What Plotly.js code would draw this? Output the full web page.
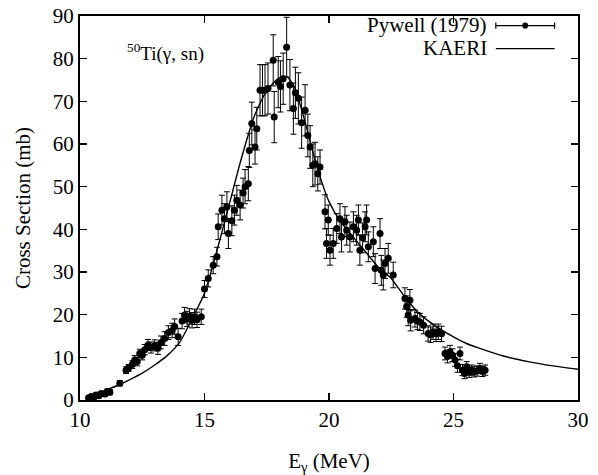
<!DOCTYPE html>
<html>
<head>
<meta charset="utf-8">
<script src="https://cdn.plot.ly/plotly-3.0.1.min.js"></script>
<style>html,body{margin:0;padding:0;background:#fff;}</style>
</head>
<body>
<div id="chart" style="width:598px;height:475px;"></div>
<script>
// Pywell (1979) data: energy (MeV), cross section (mb), error (mb)
const pywellE = [10.35,10.45,10.55,10.65,10.75,10.85,11.0,11.1,11.2,11.6,11.85,11.95,12.1,12.2,12.3,12.4,12.5,12.6,12.73,12.85,13.0,13.13,13.25,13.4,13.55,13.7,13.8,13.94,14.1,14.2,14.3,14.4,14.5,14.6,14.7,14.87,15.0,15.15,15.35,15.5,15.55,15.7,15.8,15.9,15.96,16.1,16.2,16.3,16.43,16.55,16.63,16.76,16.8,16.9,17.03,17.1,17.23,17.33,17.43,17.55,17.76,17.8,17.96,18.05,18.16,18.3,18.43,18.57,18.65,18.77,18.9,19.04,19.15,19.24,19.35,19.44,19.55,19.64,19.84,19.9,19.97,20.04,20.17,20.31,20.44,20.5,20.64,20.71,20.84,20.98,21.11,21.18,21.24,21.35,21.45,21.51,21.58,21.78,21.85,22.05,22.1,22.18,22.25,22.38,22.58,23.05,23.12,23.18,23.25,23.28,23.45,23.55,23.65,23.8,23.98,24.08,24.18,24.3,24.39,24.52,24.66,24.76,24.86,24.96,25.06,25.16,25.26,25.36,25.45,25.53,25.63,25.73,25.83,25.95,26.06,26.16,26.27];
const pywellSigma = [0.5,0.8,0.6,1.2,1.0,1.5,1.4,2.0,1.8,3.9,7.0,7.5,8.3,9.4,9.0,10.9,10.5,11.8,12.9,12.3,12.8,12.1,13.5,14.4,15.8,16.3,17.2,14.8,18.5,19.9,19.0,19.6,18.7,19.5,18.8,19.5,26,28.5,31.6,33.6,40.6,44.5,42.5,45.3,39,42,44.5,46.8,45.7,48.5,50,50.7,58.5,64.8,59.3,63.6,72.6,72.6,72.6,73,79.6,66.3,74.5,73.5,75.3,82.7,73.8,68.3,72,70.7,65,67.9,62,59.3,55,55.4,53,54.6,44.1,36.7,42.2,35.1,36.7,40.2,42.5,38.2,41.8,39.8,38.2,40.6,39.8,42.2,35.1,38,40.6,42.2,35.9,37.1,30.8,39,30.4,29.3,32,33.2,29.3,23.8,21.9,19.9,23.4,18.7,19.1,18.5,18.3,17.5,15.6,15.3,16.0,15.5,16.0,15.5,10.9,10.2,11.3,10.5,9.4,8.0,10.9,7.0,6.2,7.8,6.5,7.0,6.6,6.8,7.4,6.7,7.0];
const pywellErr = [0.3,0.4,0.4,0.5,0.5,0.5,0.6,0.6,0.6,0.6,0.8,0.8,0.9,1.0,1.0,1.0,1.1,1.2,1.3,1.3,1.3,1.4,1.5,1.6,1.6,1.7,1.8,2.0,1.8,1.8,1.8,1.8,1.8,1.8,1.8,1.8,2.0,2.0,2.0,2.2,3.0,3.5,3.5,3.5,3.5,3.5,3.5,3.5,3.5,3.5,4,4,4,5,4,5,6,6,6,6,6,6,6,6,6,7,6,6,6,6,6,6,5,5,5,5,4,4,4,3.5,3.5,3.5,3.5,3.5,3.5,3.5,3.5,3.5,3.5,3.5,3.5,3.5,3.5,3.5,3.5,3.5,3.5,3.5,3.5,3.5,3.5,3.5,3.5,3.5,3,2.5,2.5,2.5,2.5,2.5,2,2,2,2,1.8,1.8,1.8,1.8,1.8,1.8,1.5,1.5,1.5,1.5,1.5,1.5,1.5,1.3,1.2,1.2,1.2,1.2,1.2,1.2,1.2,1.2,1.2];

// KAERI evaluation curve
const kaeriE = [10.2,10.5,11.0,11.5,12.0,12.5,13.0,13.5,14.0,14.5,15.0,15.5,16.0,16.5,17.0,17.5,18.0,18.3,18.6,19.0,19.5,20.0,20.5,21.0,21.5,22.0,22.5,23.0,23.5,24.0,24.5,25.0,25.5,26.0,27.0,28.0,29.0,30.0];
const kaeriSigma = [0.3,1.0,2.2,3.4,4.8,6.3,8.2,10.4,13.5,19,25,35,46,57,66.5,72.5,75.5,75.8,73.5,66,55,46.5,41.5,38,34.5,31,28.5,24.5,21,18.5,16.5,14.8,13.3,12.2,10.3,9.0,8.0,7.2];

const xTicks = [10,15,20,25,30];
const yTicks = [0,10,20,30,40,50,60,70,80,90];
const legendNames = ['Pywell (1979)', 'KAERI'];
const labelText = '<sup>50</sup>Ti(γ, sn)';

const FONT = '"Liberation Serif", "Times New Roman", serif';

const traces = [
  {
    x: kaeriE, y: kaeriSigma, type: 'scatter', mode: 'lines',
    line: {color: '#000', width: 1.4, shape: 'spline', smoothing: 0.6},
    showlegend: false, hoverinfo: 'skip'
  },
  {
    x: pywellE, y: pywellSigma, type: 'scatter', mode: 'markers',
    marker: {color: '#000', size: 7, symbol: 'circle'},
    error_y: {type: 'data', array: pywellErr, visible: true, color: '#000', thickness: 1, width: 3},
    showlegend: false
  }
];

const axisCommon = {
  showline: true, linecolor: '#000', linewidth: 2, mirror: 'allticks',
  ticks: 'inside', ticklen: 7, tickwidth: 1.5, tickcolor: '#000',
  showgrid: false, zeroline: false,
  tickfont: {family: FONT, size: 21, color: '#000'}
};

const layout = {
  width: 598, height: 475,
  margin: {l: 80, r: 20, t: 16, b: 75},
  paper_bgcolor: '#fff', plot_bgcolor: '#fff',
  font: {family: FONT, color: '#000'},
  showlegend: false,
  xaxis: Object.assign({}, axisCommon, {
    range: [10, 30], tickvals: xTicks, ticktext: xTicks.map(String),
    title: {text: 'E<sub>γ</sub> (MeV)', font: {family: FONT, size: 21, color: '#000'}, standoff: 22}
  }),
  yaxis: Object.assign({}, axisCommon, {
    range: [0, 90], tickvals: yTicks, ticktext: yTicks.map(String),
    title: {text: 'Cross Section (mb)', font: {family: FONT, size: 21, color: '#000'}, standoff: 16}
  }),
  annotations: [
    {xref: 'paper', yref: 'paper', x: 0.09, y: 0.905, xanchor: 'left', yanchor: 'middle',
     text: labelText, showarrow: false, font: {family: FONT, size: 19, color: '#000'}},
    {xref: 'paper', yref: 'paper', x: 0.822, y: 0.977, xanchor: 'right', yanchor: 'middle',
     text: legendNames[0], showarrow: false, font: {family: FONT, size: 21, color: '#000'}},
    {xref: 'paper', yref: 'paper', x: 0.822, y: 0.917, xanchor: 'right', yanchor: 'middle',
     text: legendNames[1], showarrow: false, font: {family: FONT, size: 21, color: '#000'}}
  ],
  shapes: [
    {type: 'line', xref: 'paper', yref: 'paper', x0: 0.835, x1: 0.953, y0: 0.975, y1: 0.975, line: {color: '#000', width: 1.2}},
    {type: 'line', xref: 'paper', yref: 'paper', x0: 0.835, x1: 0.835, y0: 0.967, y1: 0.983, line: {color: '#000', width: 1.2}},
    {type: 'line', xref: 'paper', yref: 'paper', x0: 0.953, x1: 0.953, y0: 0.967, y1: 0.983, line: {color: '#000', width: 1.2}},
    {type: 'circle', xref: 'paper', yref: 'paper', x0: 0.888, x1: 0.900, y0: 0.967, y1: 0.983, fillcolor: '#000', line: {color: '#000', width: 0}},
    {type: 'line', xref: 'paper', yref: 'paper', x0: 0.835, x1: 0.953, y0: 0.915, y1: 0.915, line: {color: '#000', width: 1.2}}
  ]
};

Plotly.newPlot('chart', traces, layout, {displayModeBar: false, staticPlot: true});
</script>
</body>
</html>
